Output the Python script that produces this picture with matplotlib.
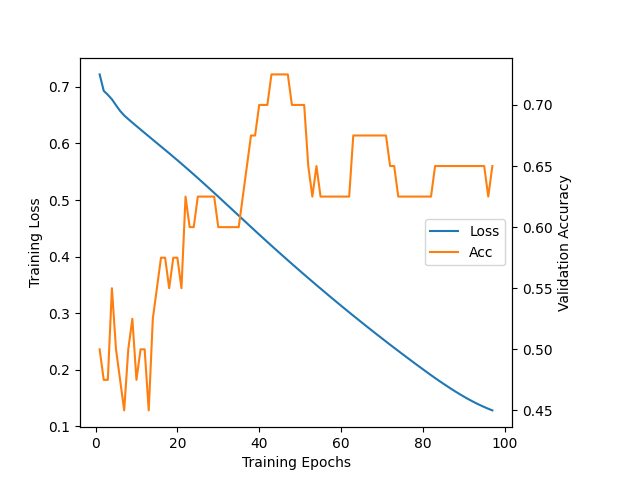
import numpy as np
import matplotlib
matplotlib.use("Agg")
import matplotlib.pyplot as plt

epochs = list(range(1, 98))

train_loss = [
    0.7220, 0.6930, 0.6860, 0.6780, 0.6675, 0.6575, 0.6495, 0.6430, 0.6368, 0.6307,
    0.6246, 0.6186, 0.6126, 0.6066, 0.6006, 0.5946, 0.5886, 0.5826, 0.5765, 0.5704,
    0.5642, 0.5579, 0.5516, 0.5452, 0.5388, 0.5323, 0.5258, 0.5192, 0.5126, 0.5060,
    0.4993, 0.4926, 0.4859, 0.4792, 0.4725, 0.4658, 0.4591, 0.4524, 0.4457, 0.4391,
    0.4325, 0.4259, 0.4194, 0.4129, 0.4064, 0.4000, 0.3936, 0.3872, 0.3809, 0.3746,
    0.3683, 0.3621, 0.3559, 0.3497, 0.3436, 0.3375, 0.3314, 0.3254, 0.3194, 0.3134,
    0.3075, 0.3016, 0.2957, 0.2899, 0.2841, 0.2783, 0.2726, 0.2669, 0.2612, 0.2556,
    0.2500, 0.2444, 0.2389, 0.2334, 0.2279, 0.2225, 0.2171, 0.2117, 0.2064, 0.2011,
    0.1958, 0.1906, 0.1855, 0.1805, 0.1756, 0.1708, 0.1661, 0.1615, 0.1571, 0.1528,
    0.1487, 0.1448, 0.1411, 0.1376, 0.1343, 0.1312, 0.1283,
]

val_acc = [
    0.500, 0.475, 0.475, 0.550, 0.500, 0.475, 0.450, 0.500, 0.525, 0.475,
    0.500, 0.500, 0.450, 0.525, 0.550, 0.575, 0.575, 0.550, 0.575, 0.575,
    0.550, 0.625, 0.600, 0.600, 0.625, 0.625, 0.625, 0.625, 0.625, 0.600,
    0.600, 0.600, 0.600, 0.600, 0.600, 0.625, 0.650, 0.675, 0.675, 0.700,
    0.700, 0.700, 0.725, 0.725, 0.725, 0.725, 0.725, 0.700, 0.700, 0.700,
    0.700, 0.650, 0.625, 0.650, 0.625, 0.625, 0.625, 0.625, 0.625, 0.625,
    0.625, 0.625, 0.675, 0.675, 0.675, 0.675, 0.675, 0.675, 0.675, 0.675,
    0.675, 0.650, 0.650, 0.625, 0.625, 0.625, 0.625, 0.625, 0.625, 0.625,
    0.625, 0.625, 0.650, 0.650, 0.650, 0.650, 0.650, 0.650, 0.650, 0.650,
    0.650, 0.650, 0.650, 0.650, 0.650, 0.625, 0.650,
]

fig, ax1 = plt.subplots(figsize=(6.4, 4.8), dpi=100)
fig.subplots_adjust(right=0.8)

l1, = ax1.plot(epochs, train_loss, color='tab:blue', label='Loss')
ax1.set_xlabel('Training Epochs')
ax1.set_ylabel('Training Loss')

ax2 = ax1.twinx()
l2, = ax2.plot(epochs, val_acc, color='tab:orange', label='Acc')
ax2.set_ylabel('Validation Accuracy')

ax2.legend([l1, l2], ['Loss', 'Acc'], loc='center right')

plt.savefig('out.png')
